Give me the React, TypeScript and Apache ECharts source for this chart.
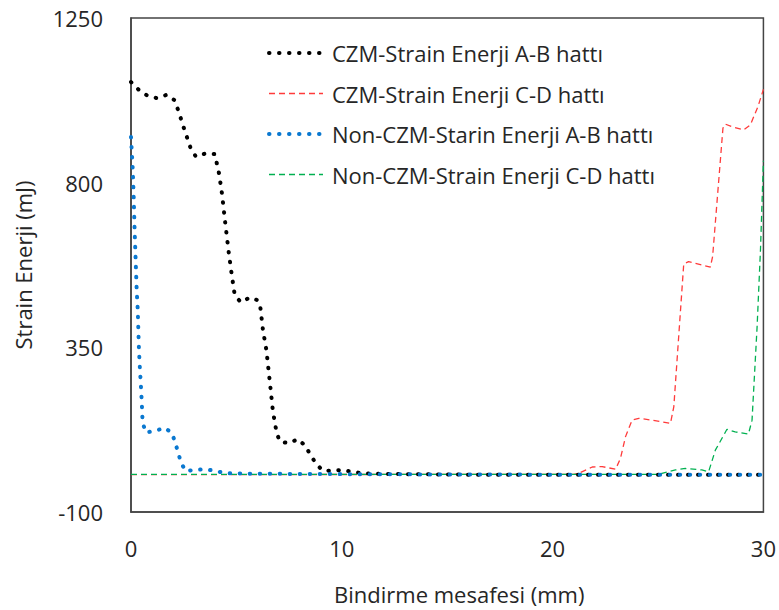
import React, { useEffect, useRef } from "react";
import * as echarts from "echarts";

// [x (mm), strain energy (mJ)]
const czmAB: [number, number][] = [
  [0, 1075], [0.38, 1053], [0.77, 1038], [1.22, 1031], [1.69, 1040], [2.05, 1026],
  [2.24, 998], [2.52, 947], [2.83, 894], [3.08, 871], [3.54, 880], [3.98, 878],
  [4.08, 850], [4.18, 824], [4.32, 768], [4.48, 685], [4.65, 603], [4.78, 548],
  [4.92, 493], [5.21, 473], [5.63, 486], [6.0, 479], [6.14, 457], [6.26, 397],
  [6.42, 343], [6.58, 259], [6.73, 176], [6.9, 119], [7.05, 93], [7.48, 88],
  [7.92, 99], [8.27, 81], [8.5, 57], [8.76, 34], [9.07, 14], [9.55, 12],
  [10.02, 15], [10.49, 10], [10.97, 6], [12, 4], [14, 3], [16, 2], [20, 2],
  [25, 2], [30, 2],
];

const czmCD: [number, number][] = [
  [0, 2], [21, 3], [21.25, 6], [21.88, 23], [22.35, 24], [22.99, 17], [23.22, 47],
  [23.46, 106], [23.77, 151], [24.09, 156], [24.72, 151], [25.59, 142], [25.75, 188],
  [26.22, 578], [26.45, 584], [27.08, 575], [27.48, 569], [27.59, 598], [28.08, 949],
  [28.19, 960], [28.51, 953], [29.06, 944], [29.38, 958], [29.74, 1008], [30, 1055],
];

const nonCzmAB: [number, number][] = [
  [0, 925], [0.08, 839], [0.13, 756], [0.17, 673], [0.22, 589], [0.27, 506],
  [0.32, 452], [0.35, 395], [0.38, 340], [0.43, 283], [0.46, 256], [0.51, 201],
  [0.55, 145], [0.7, 117], [1.14, 122], [1.61, 130], [1.95, 115], [2.1, 89],
  [2.24, 62], [2.37, 35], [2.59, 12], [3.06, 15], [3.54, 17], [4.01, 12],
  [4.48, 6], [5, 5], [8, 4], [12, 3], [20, 2], [30, 2],
];

const nonCzmCD: [number, number][] = [
  [0, 3], [25, 3], [25.83, 15], [26.3, 19], [27.08, 15], [27.4, 10], [27.72, 69],
  [28.27, 126], [28.66, 119], [29.29, 113], [29.46, 151], [29.7, 406], [29.86, 616],
  [30, 860],
];

const seriesNames = [
  "CZM-Strain Enerji A-B hattı",
  "CZM-Strain Enerji C-D hattı",
  "Non-CZM-Starin Enerji A-B hattı",
  "Non-CZM-Strain Enerji C-D hattı",
];

const xTitle = "Bindirme mesafesi (mm)";
const yTitle = "Strain Enerji (mJ)";

const FONT = "Open Sans";
const TEXT = "#262626";

export default function App() {
  const ref = useRef<HTMLDivElement>(null);
  useEffect(() => {
    if (!ref.current) return;
    const chart = echarts.init(ref.current, undefined, { renderer: "svg" });
    const dotted = (color: string) => ({
      color,
      width: 4,
      type: [0.5, 9.5] as number[],
      cap: "round" as const,
    });
    const dashed = (color: string) => ({
      color,
      width: 1.3,
      type: [6, 4] as number[],
      cap: "butt" as const,
    });
    const styles = [
      dotted("#000000"),
      dashed("#ff3b3b"),
      dotted("#0a78d0"),
      dashed("#00b050"),
    ];
    const datasets = [czmAB, czmCD, nonCzmAB, nonCzmCD];
    const zs = [3, 1, 4, 2];
    chart.setOption({
      animation: false,
      backgroundColor: "#fff",
      textStyle: { fontFamily: FONT },
      grid: {
        left: 131,
        right: 14,
        top: 18,
        bottom: 98,
        show: true,
        borderColor: "#444",
        borderWidth: 1.5,
        backgroundColor: "#fff",
      },
      legend: {
        orient: "vertical",
        left: 267,
        top: 42,
        padding: 0,
        itemWidth: 54,
        itemHeight: 22,
        itemGap: 18.5,
        itemStyle: { opacity: 0, color: "rgba(0,0,0,0)", borderWidth: 0 },
        textStyle: {
          fontFamily: FONT,
          fontSize: 22,
          lineHeight: 22,
          color: TEXT,
          padding: [0, 0, 0, 4],
        },
        data: seriesNames.map((name, i) => ({
          name,
          lineStyle: styles[i],
          itemStyle: { opacity: 0, color: "rgba(0,0,0,0)", borderWidth: 0 },
        })),
      },
      xAxis: {
        type: "value",
        min: 0,
        max: 30,
        interval: 10,
        name: xTitle,
        nameLocation: "middle",
        nameGap: 71,
        nameTextStyle: {
          fontFamily: FONT,
          fontSize: 22,
          color: TEXT,
          padding: [0, 0, 0, 24],
        },
        axisLine: { show: true, onZero: false, lineStyle: { color: "#444", width: 1.5 } },
        axisTick: { show: false },
        splitLine: { show: false },
        axisLabel: {
          fontFamily: FONT,
          fontSize: 22,
          color: TEXT,
          margin: 25,
          formatter: (v: number) => String(v),
        },
      },
      yAxis: {
        type: "value",
        min: -100,
        max: 1250,
        interval: 450,
        name: yTitle,
        nameLocation: "middle",
        nameGap: 97,
        nameTextStyle: { fontFamily: FONT, fontSize: 22, color: TEXT },
        axisLine: { show: true, onZero: false, lineStyle: { color: "#444", width: 1.5 } },
        axisTick: { show: false },
        splitLine: { show: false },
        axisLabel: {
          fontFamily: FONT,
          fontSize: 22,
          color: TEXT,
          margin: 28,
          formatter: (v: number) => String(v),
        },
      },
      series: seriesNames.map((name, i) => ({
        name,
        type: "line",
        data: datasets[i],
        showSymbol: false,
        symbol: "none",
        lineStyle: styles[i],
        itemStyle: { color: styles[i].color },
        z: zs[i],
      })),
    });
    return () => chart.dispose();
  }, []);
  return (
    <div
      ref={ref}
      style={{ position: "fixed", left: 0, top: 0, width: 779, height: 610 }}
    />
  );
}
